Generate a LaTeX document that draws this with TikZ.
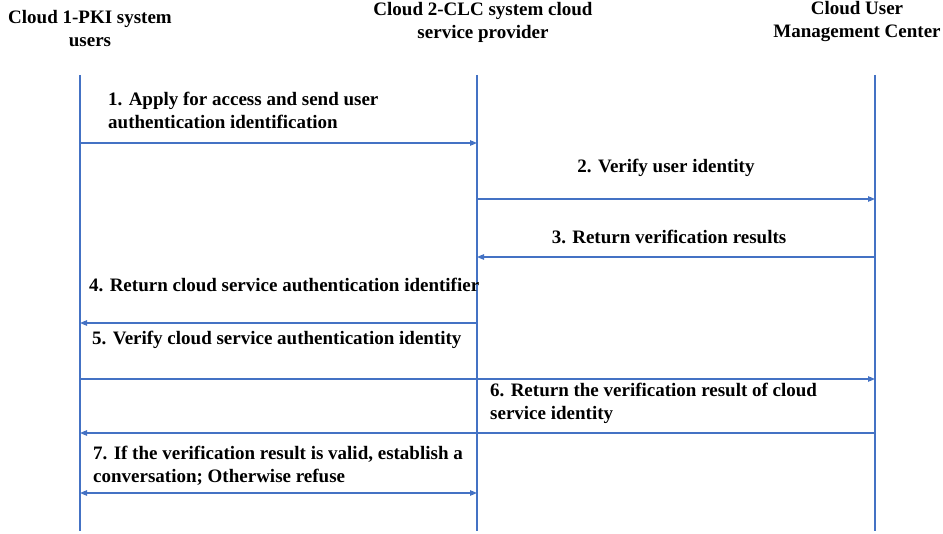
\documentclass[tikz,border=0pt]{standalone}
\usepackage{fontspec}
\setmainfont{Liberation Serif}
\usetikzlibrary{arrows.meta}
\definecolor{lineblue}{RGB}{68,114,196}

\begin{document}
\begin{tikzpicture}[x=1pt,y=-1pt,
  every node/.style={font=\fontsize{19}{23}\selectfont\bfseries},
  head/.style={align=center,inner sep=0pt},
  lbl/.style={align=left,inner sep=0pt},
  life/.style={lineblue,line width=1.1pt},
  msg/.style={lineblue,line width=1.1pt,-{Triangle[length=7pt,width=5.5pt]}},
  both/.style={lineblue,line width=1.1pt,{Triangle[length=7pt,width=5.5pt]}-{Triangle[length=7pt,width=5.5pt]}}]
\useasboundingbox (0,0) rectangle (943,534);

% participants
\node[head] (hUser) at (90,29) {Cloud 1-PKI system\\users};
\node[head] (hProv) at (483,22) {Cloud 2-CLC system cloud\\service provider};
\node[head] (hCtr) at (857,22) {Cloud User\\Management Center};

% lifelines
\coordinate (uTop) at (80,75);   \coordinate (uEnd) at (80,531);
\coordinate (pTop) at (477,75);  \coordinate (pEnd) at (477,531);
\coordinate (cTop) at (875,75);  \coordinate (cEnd) at (875,531);
\draw[life] (uTop) -- (uEnd);
\draw[life] (pTop) -- (pEnd);
\draw[life] (cTop) -- (cEnd);

% message points on each lifeline
\foreach \n/\y in {1/143,2/199,3/257,4/323,5/379,6/433,7/493} {
  \coordinate (u\n) at (80,\y);
  \coordinate (p\n) at (477,\y);
  \coordinate (c\n) at (875,\y);
}

% messages
\draw[msg] (u1) -- (p1);
\node[lbl,anchor=west] (m1) at (108,110) {1. Apply for access and send user\\authentication identification};
\draw[msg] (p2) -- (c2);
\node[lbl] (m2) at (666,168) {2. Verify user identity};
\draw[msg] (c3) -- (p3);
\node[lbl] (m3) at (669,237) {3. Return verification results};
\draw[msg] (p4) -- (u4);
\node[lbl,anchor=west] (m4) at (89,285) {4. Return cloud service authentication identifier};
\draw[msg] (u5) -- (c5);
\node[lbl,anchor=west] (m5) at (92,340) {5. Verify cloud service authentication identity};
\draw[msg] (c6) -- (u6);
\node[lbl,anchor=west] (m6) at (490,403) {6. Return the verification result of cloud\\service identity};
\draw[both] (u7) -- (p7);
\node[lbl,anchor=west] (m7) at (93,466) {7. If the verification result is valid, establish a\\conversation; Otherwise refuse};
\end{tikzpicture}
\end{document}
